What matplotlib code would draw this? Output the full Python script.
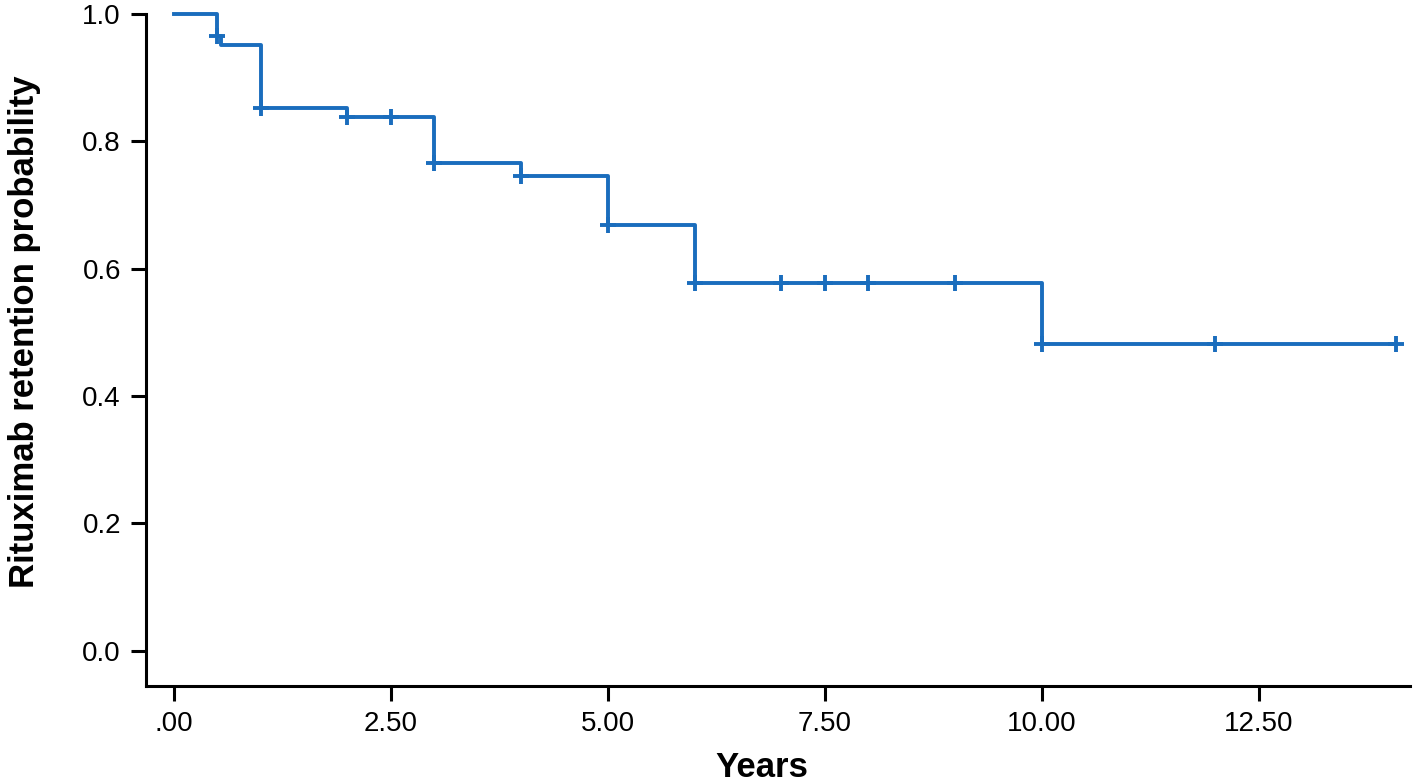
import matplotlib.pyplot as plt
import numpy as np

# Kaplan-Meier step curve (time in years, survival after each drop)
step_times = [0.0, 0.55, 1.0, 2.0, 3.0, 4.0, 5.0, 6.0, 10.0, 14.08]
step_surv = [1.0, 0.952, 0.852, 0.838, 0.766, 0.745, 0.668, 0.578, 0.482, 0.482]

# censored observations
cens_times = [0.5, 1.0, 2.0, 2.5, 3.0, 4.0, 5.0, 6.0, 7.0, 7.5, 8.0, 9.0, 10.0, 12.0, 14.08]
cens_surv = [0.965, 0.852, 0.838, 0.838, 0.766, 0.745, 0.668, 0.578, 0.578, 0.578, 0.578, 0.578, 0.482, 0.482, 0.482]

x_ticks = [0, 2.5, 5, 7.5, 10, 12.5]
x_labels = ['.00', '2.50', '5.00', '7.50', '10.00', '12.50']
y_ticks = [0.0, 0.2, 0.4, 0.6, 0.8, 1.0]

plt.rcParams['font.family'] = ['Liberation Sans', 'DejaVu Sans']
col = '#1a6dbd'

fig = plt.figure(figsize=(14.17, 7.82), dpi=100)
ax = fig.add_axes([0.103, 0.123, 0.892, 0.859])

# the 0.5 censoring drops a tiny bit before the event at 0.55
xs = [0.0, 0.5, 0.5] + step_times[1:]
ys = [1.0, 1.0, 0.965] + step_surv[1:]
ax.step(xs, ys, where='post', color=col, lw=2.8, clip_on=False)
ax.plot(cens_times, cens_surv, '+', color=col, ms=12, mew=2.8, clip_on=False)

ax.set_xlim(-0.32, 14.24)
ax.set_ylim(-0.055, 1.0)
ax.set_xticks(x_ticks)
ax.set_xticklabels(x_labels)
ax.set_yticks(y_ticks)
ax.set_yticklabels(['%.1f' % v for v in y_ticks])

for s in ['top', 'right']:
    ax.spines[s].set_visible(False)
for s in ['left', 'bottom']:
    ax.spines[s].set_linewidth(2.2)
ax.tick_params(width=2.2, length=11, labelsize=20, pad=7, colors='black')

ax.set_xlabel('Years', fontsize=25, fontweight='bold', labelpad=10)
ax.set_ylabel('Rituximab retention probability', fontsize=25, fontweight='bold', labelpad=30)
ax.xaxis.label.set_x(0.487)
ax.yaxis.label.set_y(0.527)

fig.savefig('out.png', dpi=100)
